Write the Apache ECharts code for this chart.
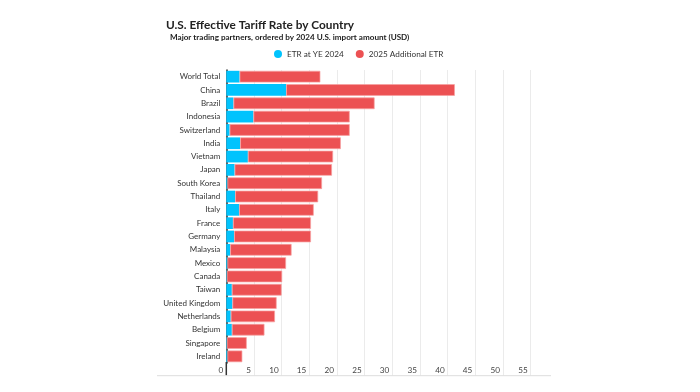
<!DOCTYPE html>
<html>
<head>
<meta charset="utf-8">
<script src="https://cdn.jsdelivr.net/npm/echarts@6/dist/echarts.min.js"></script>
<style>html,body{margin:0;padding:0;background:#fff}#c{width:700px;height:392px}</style>
</head>
<body>
<div id="c"></div>
<script>
const categories = ["World Total","China","Brazil","Indonesia","Switzerland","India","Vietnam","Japan","South Korea","Thailand","Italy","France","Germany","Malaysia","Mexico","Canada","Taiwan","United Kingdom","Netherlands","Belgium","Singapore","Ireland"];
const etr2024 = [2.4,10.8,1.3,4.9,0.6,2.5,3.9,1.5,0.2,1.6,2.3,1.2,1.4,0.7,0.2,0.1,1.0,1.1,0.8,1.0,0.1,0.2];
const additional2025 = [14.6,30.5,25.5,17.4,21.7,18.2,15.4,17.6,17.1,15.0,13.5,14.1,13.9,11.1,10.6,10.0,9.0,8.0,8.0,5.9,3.6,2.7];
const xTicks = {min:0, max:55, interval:5};

const chart = echarts.init(document.getElementById('c'));
const FONT = 'Lato';
chart.setOption({
  backgroundColor:'#fff',
  animation:false,
  textStyle:{fontFamily:FONT},
  title:[
    {text:'U.S. Effective Tariff Rate by Country', left:161, top:14,
     textStyle:{fontFamily:FONT,fontSize:11.8,fontWeight:'bold',color:'#222'}},
    {text:'Major trading partners, ordered by 2024 U.S. import amount (USD)', left:165, top:28.5,
     textStyle:{fontFamily:FONT,fontSize:8.1,fontWeight:'bold',color:'#222'}}
  ],
  legend:{
    top:45, left:269, itemWidth:8, itemHeight:8, itemGap:12, itemTextGap:4, icon:'circle',
    itemStyle:{borderWidth:0},
    textStyle:{fontFamily:FONT,fontSize:8.2,color:'#333'},
    data:['ETR at YE 2024','2025 Additional ETR']
  },
  grid:{left:226.3, right:169.3, top:70, bottom:29, containLabel:false},
  xAxis:{
    type:'value', min:xTicks.min, max:xTicks.max, interval:xTicks.interval,
    axisLine:{show:false},
    axisTick:{show:true, length:12.5, lineStyle:{color:'#ebebeb',width:1}},
    splitLine:{show:true, lineStyle:{color:'#ebebeb',width:1}},
    axisLabel:{fontFamily:FONT,fontSize:8.2,color:'#444',align:'right',margin:3,padding:[0,3,0,0]}
  },
  yAxis:{
    type:'category', data:categories, inverse:true,
    axisLine:{show:true, lineStyle:{color:'#333',width:1.5}},
    axisTick:{show:false},
    axisLabel:{fontFamily:FONT,fontSize:8,color:'#333',margin:6}
  },
  graphic:[
    {type:'line', shape:{x1:226.3,y1:362,x2:226.3,y2:375.5}, style:{stroke:'#333',lineWidth:1.5}, z:10},
    {type:'line', shape:{x1:157,y1:375.7,x2:551,y2:375.7}, style:{stroke:'#ddd',lineWidth:1}, z:10}
  ],
  series:[
    {name:'ETR at YE 2024', type:'bar', stack:'t', data:etr2024, barCategoryGap:'12%',
     itemStyle:{color:'#00c3fd'}},
    {name:'2025 Additional ETR', type:'bar', stack:'t', data:additional2025, barCategoryGap:'12%',
     itemStyle:{color:'#ec5153', borderColor:'rgba(246,160,160,0.9)', borderWidth:0.8}}
  ]
});
</script>
</body>
</html>
